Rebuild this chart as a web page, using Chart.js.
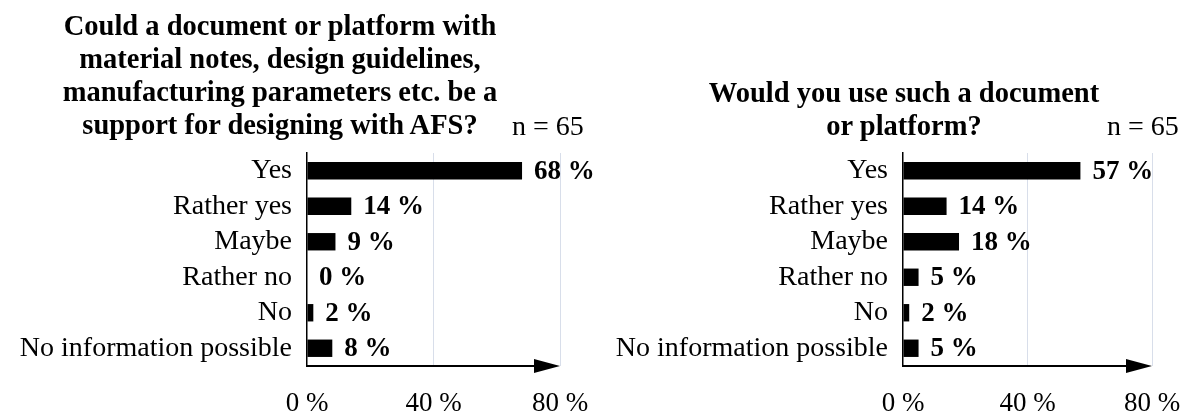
<!DOCTYPE html>
<html>
<head>
<meta charset="utf-8">
<script src="https://cdn.jsdelivr.net/npm/chart.js@4.4.1/dist/chart.umd.min.js"></script>
<style>
  body { margin: 0; background: #fff; }
  #tela { position: relative; width: 1189px; height: 413px; overflow: hidden; font-family: "Liberation Serif", "Times New Roman", serif; color: #000; }
  canvas { position: absolute; top: 0; }
  .titulo { position: absolute; font-weight: bold; font-size: 28.5px; line-height: 33px; text-align: center; white-space: nowrap; }
  .amostra { position: absolute; font-size: 28px; line-height: 33px; white-space: nowrap; }
</style>
</head>
<body>
<div id="tela">
  <canvas id="graficoSuporte" width="600" height="413" style="left:0"></canvas>
  <canvas id="graficoUso" width="589" height="413" style="left:600px"></canvas>

  <div class="titulo" style="left:30px; top:9px; width:500px;">Could a document or platform with<br>material notes, design guidelines,<br>manufacturing parameters etc. be a<br>support for designing with AFS?</div>
  <div class="amostra" style="left:512px; top:109px;">n = 65</div>

  <div class="titulo" style="left:654px; top:76px; width:500px;">Would you use such a document<br>or platform?</div>
  <div class="amostra" style="left:1107px; top:109px;">n = 65</div>
</div>

<script>
// Dados (em %)
const categorias = ['Yes', 'Rather yes', 'Maybe', 'Rather no', 'No', 'No information possible'];
const valoresSuporte = [68, 14, 9, 0, 2, 8];   // "be a support for designing with AFS?"
const valoresUso = [57, 14, 18, 5, 2, 5];      // "Would you use such a document?"
const ticksX = [0, 40, 80];

Chart.defaults.font.family = '"Liberation Serif", "Times New Roman", serif';
Chart.defaults.color = '#000';

// Escreve o valor ao lado de cada barra
const rotuloValores = {
    id: 'rotuloValores',
    afterDatasetsDraw(chart) {
        const ctx = chart.ctx;
        const meta = chart.getDatasetMeta(0);
        ctx.save();
        ctx.font = 'bold 27px "Liberation Serif"';
        ctx.fillStyle = '#000';
        ctx.textAlign = 'left';
        ctx.textBaseline = 'middle';
        meta.data.forEach((barra, i) => {
            const v = chart.data.datasets[0].data[i];
            ctx.fillText(v + ' %', barra.x + 12, barra.y + 1);
        });
        ctx.restore();
    }
};

// Eixo x com seta no final
const setaEixo = {
    id: 'setaEixo',
    afterDraw(chart) {
        const ctx = chart.ctx;
        const x = chart.scales.x;
        const y = chart.chartArea.bottom;
        const x0 = x.getPixelForValue(ticksX[0]);
        const x1 = x.getPixelForValue(ticksX[ticksX.length - 1]);
        ctx.save();
        ctx.strokeStyle = '#000';
        ctx.fillStyle = '#000';
        ctx.lineWidth = 2;
        ctx.beginPath();
        ctx.moveTo(x0 - 1, y);
        ctx.lineTo(x1 - 20, y);
        ctx.stroke();
        ctx.beginPath();
        ctx.moveTo(x1 - 26, y - 7);
        ctx.lineTo(x1, y);
        ctx.lineTo(x1 - 26, y + 7);
        ctx.closePath();
        ctx.fill();
        ctx.restore();
    }
};

function criarGrafico(id, valores, larguraEixoY, folgaDireita) {
    const ctx = document.getElementById(id).getContext('2d');
    return new Chart(ctx, {
        type: 'bar',
        data: {
            labels: categorias,
            datasets: [{
                data: valores,
                backgroundColor: '#000',
                borderWidth: 0,
                barPercentage: 0.49,
                categoryPercentage: 1
            }]
        },
        options: {
            indexAxis: 'y',
            responsive: false,
            animation: false,
            devicePixelRatio: 1,
            layout: { padding: { top: 153, right: folgaDireita, bottom: 0, left: 0 } },
            plugins: {
                legend: { display: false },
                tooltip: { enabled: false }
            },
            scales: {
                x: {
                    min: ticksX[0],
                    max: ticksX[ticksX.length - 1],
                    afterBuildTicks: (s) => { s.ticks = ticksX.map(v => ({ value: v })); },
                    afterFit: (s) => { s.height = 47; },
                    ticks: {
                        callback: (v) => v + ' %',
                        // lineHeight alto só para descer os rótulos abaixo da seta
                        font: { size: 27, lineHeight: 2.55 },
                        color: '#000',
                        padding: 3,
                        maxRotation: 0,
                        autoSkip: false
                    },
                    grid: {
                        color: (c) => c.tick && c.tick.value === 0 ? 'rgba(0,0,0,0)' : '#d8deea',
                        lineWidth: 1,
                        drawTicks: false
                    },
                    border: { display: false }
                },
                y: {
                    afterFit: (s) => { s.width = larguraEixoY; },
                    ticks: {
                        font: { size: 28 },
                        color: '#000',
                        padding: 15,
                        autoSkip: false
                    },
                    grid: { display: false, drawTicks: false },
                    border: { display: true, color: '#000', width: 1.5 }
                }
            }
        },
        plugins: [rotuloValores, setaEixo]
    });
}

const graficoSuporte = criarGrafico('graficoSuporte', valoresSuporte, 307, 40);
const graficoUso = criarGrafico('graficoUso', valoresUso, 303, 37);
</script>
</body>
</html>
